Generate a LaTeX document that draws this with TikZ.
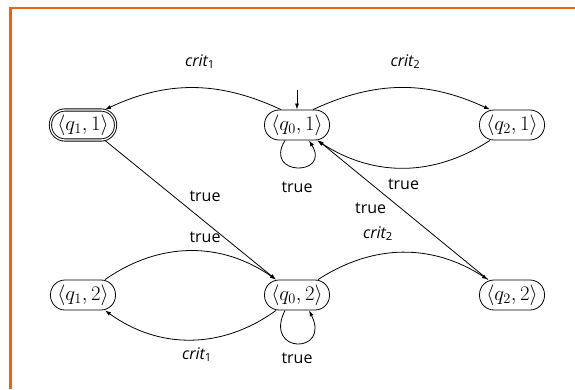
\documentclass[tikz,border=0pt]{standalone}
\usepackage{fontspec}
\newfontfamily\labfont{Open Sans}
\usetikzlibrary{arrows.meta}
\definecolor{frameorange}{RGB}{232,100,20}
\begin{document}
\begin{tikzpicture}[x=1pt,y=1pt,
  st/.style={draw,line width=0.8pt,rounded corners=14.5pt,minimum width=65pt,minimum height=30pt,inner xsep=1pt,inner ysep=0pt,font=\fontsize{20}{22}\selectfont},
  acc/.style={st,double,double distance=1.3pt,line width=0.9pt},
  arr/.style={line width=0.8pt,-{Latex[length=6pt,width=4pt]}},
  lab/.style={font=\labfont\fontsize{16}{18}\selectfont,inner sep=0pt}]
\useasboundingbox (0,0) rectangle (575,389);
\draw[frameorange,line width=2.5pt] (10.5,0) -- (10.5,381) -- (575,381);
\node[acc] (a) at (83,264) {$\langle q_1, 1\rangle$};
\node[st] (b) at (297,264) {$\langle q_0, 1\rangle$};
\node[st] (c) at (512,264) {$\langle q_2, 1\rangle$};
\node[st] (d) at (83,94) {$\langle q_1, 2\rangle$};
\node[st] (e) at (297,94) {$\langle q_0, 2\rangle$};
\node[st] (f) at (512,94) {$\langle q_2, 2\rangle$};
\coordinate (init) at (297,299);
\draw[arr] (init) -- (b.north);
% upper row arcs
\draw[arr] ([xshift=-16pt]b.north) to[out=155,in=25]
  node[lab,pos=0.5,xshift=7pt,yshift=26pt] {{\itshape crit}\textsubscript{1}} ([xshift=22pt]a.north);
\draw[arr] ([xshift=16pt]b.north) to[out=25,in=155]
  node[lab,pos=0.5,xshift=4pt,yshift=26pt] {{\itshape crit}\textsubscript{2}} ([xshift=-22pt]c.north);
\draw[arr] ([xshift=-22pt]c.south) to[out=-147,in=-33]
  node[lab,pos=0.5,yshift=-16pt] {true} ([xshift=20pt]b.south);
% diagonals
\draw[arr] ([xshift=-24pt]f.north) --
  node[lab,pos=0.62,xshift=-12pt,yshift=-15pt] {true} ([xshift=21pt]b.south);
\draw[arr] ([xshift=22pt]a.south) --
  node[lab,pos=0.5,xshift=14.5pt,yshift=14pt] {true} ([xshift=-21pt]e.north);
% lower row arcs
\draw[arr] ([xshift=21pt]e.north) to[out=33,in=147]
  node[lab,pos=0.5,xshift=-25pt,yshift=19pt] {{\itshape crit}\textsubscript{2}} ([xshift=-24pt]f.north);
\draw[arr] ([xshift=22pt]d.north) to[out=35,in=145]
  node[lab,pos=0.5,xshift=14.5pt,yshift=14pt] {true} ([xshift=-21pt]e.north);
\draw[arr] ([xshift=-21pt]e.south) to[out=-144,in=-36]
  node[lab,pos=0.5,xshift=6.5pt,yshift=-15pt] {{\itshape crit}\textsubscript{1}} ([xshift=22pt]d.south);
% loops
\draw[arr] ([xshift=-12pt]b.south) .. controls +(-22,-36) and +(22,-36) ..
  node[lab,pos=0.5,yshift=-20pt] {true} ([xshift=12pt]b.south);
\draw[arr] ([xshift=-12pt]e.south) .. controls +(-22,-44) and +(22,-44) ..
  node[lab,pos=0.5,yshift=-15pt] {true} ([xshift=12pt]e.south);
\end{tikzpicture}
\end{document}
